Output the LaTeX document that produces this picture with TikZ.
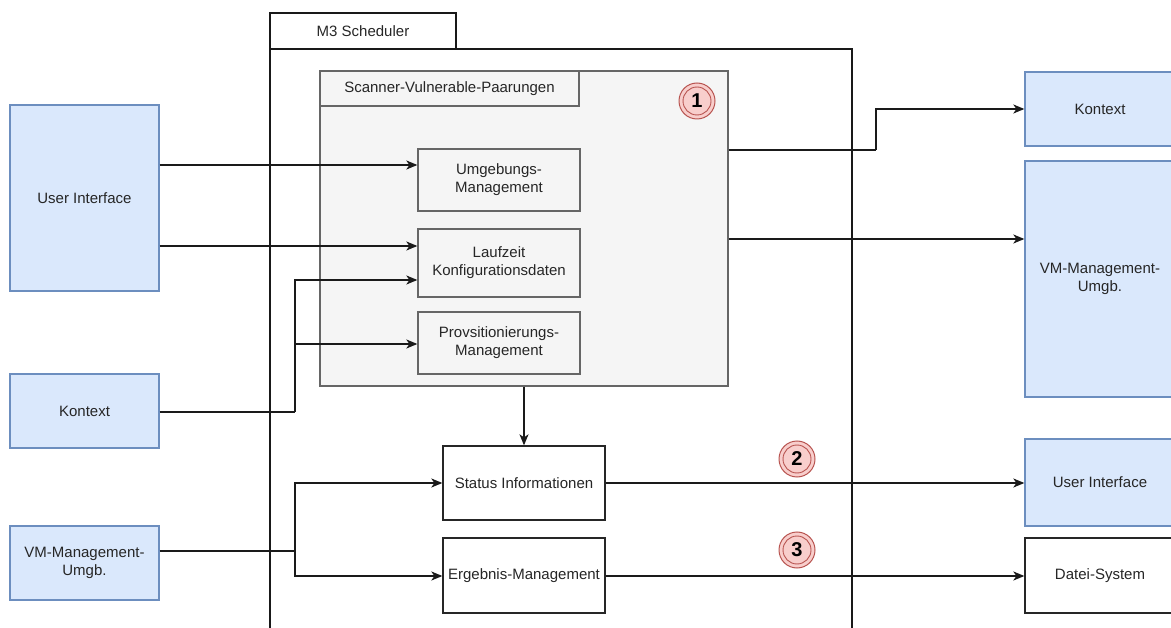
\documentclass[tikz,border=0pt]{standalone}
\usepackage{fontspec}
\setmainfont{Liberation Sans}
\usetikzlibrary{arrows.meta,calc}

\definecolor{bluefill}{HTML}{DAE8FC}
\definecolor{blueline}{HTML}{6C8EBF}
\definecolor{greyfill}{HTML}{F5F5F5}
\definecolor{greyline}{HTML}{666666}
\definecolor{redfill}{HTML}{F8CECC}
\definecolor{redline}{HTML}{B85450}
\definecolor{wire}{HTML}{1A1A1A}

\tikzset{
  every node/.style={font=\fontsize{15}{18}\selectfont, text=black!85, inner sep=0pt, align=center},
  bluebox/.style={draw=blueline, fill=bluefill, line width=1.3pt},
  plainbox/.style={draw=black!85, fill=white, line width=1.3pt},
  greybox/.style={draw=greyline, fill=greyfill, line width=1.3pt},
  container/.style={draw=black!90, line width=2.5pt},
  badge/.style={circle, draw=redline, fill=redfill, line width=1pt, minimum size=36pt,
    font=\fontsize{20}{20}\selectfont\bfseries, text=black,
    path picture={\draw[redline, line width=0.9pt] (path picture bounding box.center) circle (14pt);}},
  arr/.style={draw=wire, line width=1.3pt, -{Stealth[length=11pt,width=9pt,inset=3pt]}},
  ln/.style={draw=wire, line width=1.3pt},
}

% a box given by its corners (x1,y1) and (x2,y2)
\newcommand{\cbox}[7]{%
  \node[#1, minimum width={#5-#3}, minimum height={#6-#4}] (#2) at ({(#3+#5)/2},{(#4+#6)/2}) {#7};}

\begin{document}
\begin{tikzpicture}[x=1pt, y=-1pt]
  \useasboundingbox (0,0) rectangle (1171,628);
  \clip (0,0) rectangle (1171,628);

  % M3 Scheduler container and its tab
  \cbox{container}{m3}{270}{49}{852}{700}{}
  \cbox{container}{m3tab}{270}{13}{456}{49}{M3 Scheduler}

  % Scanner-Vulnerable-Paarungen group
  \cbox{greybox}{svp}{320}{71}{728}{386}{}
  \cbox{greybox}{svptab}{320}{71}{579}{106}{Scanner-Vulnerable-Paarungen}
  \cbox{greybox}{umg}{418}{149}{580}{211}{Umgebungs-\\Management}
  \cbox{greybox}{lauf}{418}{229}{580}{297}{Laufzeit\\Konfigurationsdaten}
  \cbox{greybox}{prov}{418}{312}{580}{374}{Provsitionierungs-\\Management}

  % lower components
  \cbox{plainbox}{status}{443}{446}{605}{520}{Status Informationen}
  \cbox{plainbox}{ergeb}{443}{538}{605}{613}{Ergebnis-Management}

  % inputs on the left
  \cbox{bluebox}{uiL}{10}{105}{159}{291}{User Interface}
  \cbox{bluebox}{kxL}{10}{374}{159}{448}{Kontext}
  \cbox{bluebox}{vmL}{10}{526}{159}{600}{VM-Management-\\Umgb.}

  % outputs on the right
  \cbox{bluebox}{kxR}{1025}{72}{1175}{146}{Kontext}
  \cbox{bluebox}{vmR}{1025}{161}{1175}{397}{VM-Management-\\Umgb.}
  \cbox{bluebox}{uiR}{1025}{439}{1175}{526}{User Interface}
  \cbox{plainbox}{datei}{1025}{538}{1175}{613}{Datei-System}

  % numbered markers
  \node[badge] (b1) at (697,101) {1};
  \node[badge] (b2) at (797,459) {2};
  \node[badge] (b3) at (797,550) {3};

  % junction points of the elbow connectors
  \coordinate (jk) at (295,412);
  \coordinate (jv) at (295,551);
  \coordinate (jr) at (876,150);

  % connectors from the left
  \draw[arr] (uiL.east |- 0,165) -- (umg.west |- 0,165);
  \draw[arr] (uiL.east |- 0,246) -- (lauf.west |- 0,246);
  \draw[ln] (kxL.east |- jk) -- (jk);
  \draw[arr] (jk) |- (lauf.west |- 0,280);
  \draw[arr] (jk |- 0,344) -- (prov.west |- 0,344);
  \draw[ln] (vmL.east |- jv) -- (jv);
  \draw[arr] (jv) |- (status.west);
  \draw[arr] (jv) |- (ergeb.west |- 0,576);

  % connectors to the right
  \draw[ln] (svp.east |- jr) -- (jr);
  \draw[arr] (jr) |- (kxR.west |- 0,109);
  \draw[arr] (svp.east |- 0,239) -- (vmR.west |- 0,239);
  \draw[arr] (svp.south -| status.north) -- (status.north);
  \draw[arr] (status.east) -- (uiR.west |- status.east);
  \draw[arr] (ergeb.east |- 0,576) -- (datei.west |- 0,576);
\end{tikzpicture}
\end{document}
